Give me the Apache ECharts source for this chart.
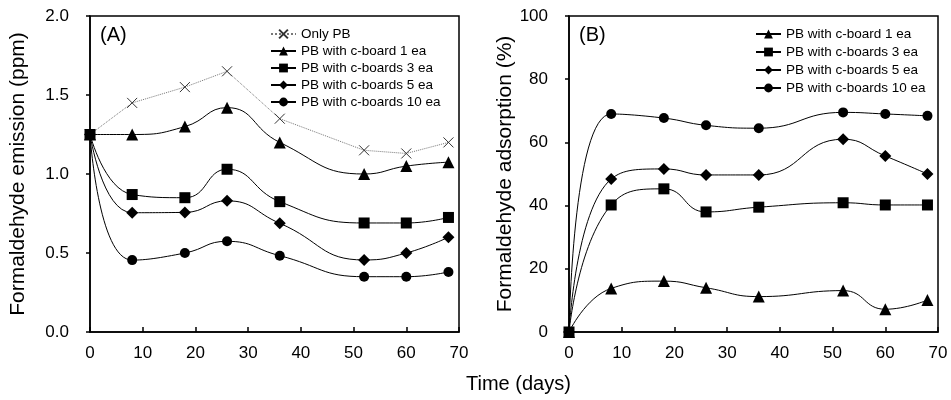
<!DOCTYPE html>
<html>
<head>
<meta charset="utf-8">
<script src="https://cdn.jsdelivr.net/npm/echarts@6/dist/echarts.min.js"></script>
<style>
  html, body { margin: 0; padding: 0; background: #fff; }
  #chart { width: 951px; height: 400px; }
</style>
</head>
<body>
<div id="chart"></div>
<script>
// time points (days)
const days = [0, 8, 18, 26, 36, 52, 60, 68]

// (A) formaldehyde emission, ppm
const emOnlyPB = [1.25, 1.45, 1.55, 1.65, 1.35, 1.15, 1.13, 1.20]
const emBoard1 = [1.25, 1.25, 1.30, 1.42, 1.20, 1.00, 1.05, 1.075]
const emBoards3 = [1.25, 0.87, 0.85, 1.03, 0.825, 0.69, 0.69, 0.725]
const emBoards5 = [1.25, 0.755, 0.757, 0.83, 0.688, 0.456, 0.50, 0.60]
const emBoards10 = [1.25, 0.455, 0.50, 0.574, 0.483, 0.35, 0.35, 0.38]

// (B) formaldehyde adsorption, %
const adBoard1 = [0, 13.8, 16.1, 14, 11.2, 13.1, 7.2, 10.1]
const adBoards3 = [0, 40.2, 45.3, 38, 39.5, 40.9, 40.2, 40.2]
const adBoards5 = [0, 48.4, 51.6, 49.7, 49.7, 61, 55.7, 50]
const adBoards10 = [0, 69, 67.7, 65.4, 64.5, 69.5, 69, 68.4]

const names = ['Only PB', 'PB with c-board 1 ea', 'PB with c-boards 3 ea', 'PB with c-boards 5 ea', 'PB with c-boards 10 ea']

const font = 'Liberation Sans, Arial, sans-serif'
const chart = echarts.init(document.getElementById('chart'))

function pairs (vals) {
  return days.map((d, i) => [d, vals[i]])
}

function lineSeries (name, vals, idx, symbol, size) {
  return {
    name: name,
    type: 'line',
    xAxisIndex: idx,
    yAxisIndex: idx,
    data: pairs(vals),
    smooth: 0.5,
    symbol: symbol,
    symbolSize: size,
    showSymbol: true,
    lineStyle: { color: '#000', width: 1 },
    itemStyle: { color: '#000' },
    emphasis: { disabled: true },
    z: 3
  }
}

function xAxisOf (idx) {
  return {
    type: 'value',
    gridIndex: idx,
    min: 0,
    max: 70,
    interval: 10,
    axisLine: { show: true, lineStyle: { color: '#000', width: 1.5 } },
    axisTick: { show: true, inside: true, length: 5, lineStyle: { color: '#000', width: 1.5 } },
    axisLabel: { color: '#000', fontSize: 17, fontFamily: font, margin: 13 },
    splitLine: { show: false }
  }
}

function yAxisOf (idx, max, interval, title, gap, fmt) {
  return {
    type: 'value',
    gridIndex: idx,
    min: 0,
    max: max,
    interval: interval,
    name: title,
    nameLocation: 'middle',
    nameGap: gap,
    nameTextStyle: { color: '#000', fontSize: 21, fontFamily: font },
    axisLine: { show: true, lineStyle: { color: '#000', width: 1.5 } },
    axisTick: { show: true, inside: false, length: 4, lineStyle: { color: '#000', width: 1.5 } },
    axisLabel: { color: '#000', fontSize: 17, fontFamily: font, margin: 21, formatter: fmt },
    splitLine: { show: false }
  }
}

const onlyPB = lineSeries(names[0], emOnlyPB, 0, 'path://M0,0L10,10M10,0L0,10', 10)
onlyPB.smooth = false
onlyPB.lineStyle = { color: '#777', width: 1, type: 'dotted' }
onlyPB.itemStyle = { color: 'none', borderColor: '#333', borderWidth: 1 }

const option = {
  animation: false,
  backgroundColor: '#fff',
  textStyle: { fontFamily: font },
  grid: [
    { left: 90, right: 492, top: 16, bottom: 68, show: true, borderColor: '#000', borderWidth: 1.5 },
    { left: 569, right: 13, top: 16, bottom: 68, show: true, borderColor: '#000', borderWidth: 1.5 }
  ],
  xAxis: [xAxisOf(0), xAxisOf(1)],
  yAxis: [
    yAxisOf(0, 2, 0.5, 'Formaldehyde emission (ppm)', 61, v => v.toFixed(1)),
    yAxisOf(1, 100, 20, 'Formaldehyde adsorption (%)', 44, v => v)
  ],
  legend: [
    {
      left: 265,
      top: 22,
      orient: 'vertical',
      itemWidth: 25,
      itemHeight: 11,
      itemGap: 3,
      selectedMode: false,
      textStyle: { color: '#000', fontSize: 13.5, fontFamily: font },
      data: names
    },
    {
      left: 750,
      top: 22,
      orient: 'vertical',
      itemWidth: 25,
      itemHeight: 11,
      itemGap: 4,
      selectedMode: false,
      textStyle: { color: '#000', fontSize: 13.5, fontFamily: font },
      data: names.slice(1).map(n => n + ' ')
    }
  ],
  graphic: [
    { type: 'text', left: 100, top: 25, style: { text: '(A)', fontSize: 20, fontFamily: font, fill: '#000' } },
    { type: 'text', left: 579, top: 25, style: { text: '(B)', fontSize: 20, fontFamily: font, fill: '#000' } },
    { type: 'text', left: 466, top: 374, style: { text: 'Time (days)', fontSize: 20, fontFamily: font, fill: '#000' } }
  ],
  series: [
    onlyPB,
    lineSeries(names[1], emBoard1, 0, 'triangle', 12),
    lineSeries(names[2], emBoards3, 0, 'rect', 11),
    lineSeries(names[3], emBoards5, 0, 'diamond', 12),
    lineSeries(names[4], emBoards10, 0, 'circle', 10),
    lineSeries(names[1] + ' ', adBoard1, 1, 'triangle', 12),
    lineSeries(names[2] + ' ', adBoards3, 1, 'rect', 11),
    lineSeries(names[3] + ' ', adBoards5, 1, 'diamond', 12),
    lineSeries(names[4] + ' ', adBoards10, 1, 'circle', 10)
  ]
}

chart.setOption(option)
</script>
</body>
</html>
